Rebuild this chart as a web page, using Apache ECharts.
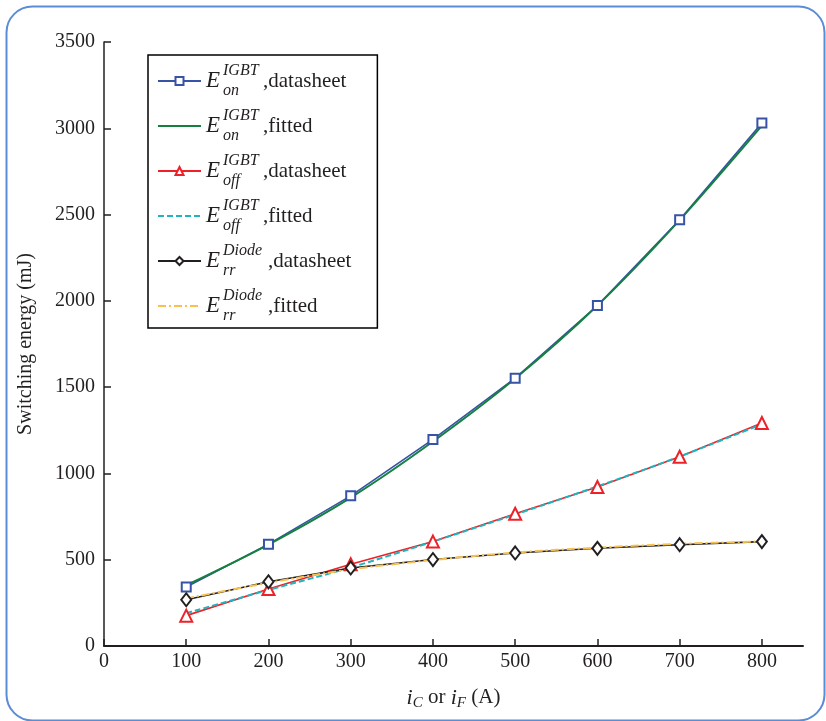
<!DOCTYPE html>
<html><head><meta charset="utf-8">
<script src="https://cdn.jsdelivr.net/npm/echarts@6/dist/echarts.min.js"></script>
<style>html,body{margin:0;padding:0;background:#fff}#c{width:826px;height:721px}</style>
</head><body><div id="c"></div>
<script>
// ---- data ----
const current = [100, 200, 300, 400, 500, 600, 700, 800];
const eonDatasheet = [342, 590, 870, 1197, 1552, 1973, 2470, 3030];
const eonFitted = [352, 588, 860, 1185, 1550, 1973, 2468, 3015];
const eoffDatasheet = [176, 330, 474, 605, 766, 921, 1097, 1292];
const eoffFitted = [190, 325, 455, 605, 762, 925, 1098, 1285];
const errDatasheet = [268, 372, 452, 501, 539, 566, 587, 605];
const errFitted = [276, 366, 444, 498, 542, 570, 592, 606];
const xTickValues = [0, 100, 200, 300, 400, 500, 600, 700, 800];
const seriesNames = ['Eon_IGBT_datasheet', 'Eon_IGBT_fitted', 'Eoff_IGBT_datasheet', 'Eoff_IGBT_fitted', 'Err_Diode_datasheet', 'Err_Diode_fitted'];
const legendSup = ['IGBT', 'IGBT', 'IGBT', 'IGBT', 'Diode', 'Diode'];
const legendSub = ['on', 'on', 'off', 'off', 'rr', 'rr'];
const legendTail = [',datasheet', ',fitted', ',datasheet', ',fitted', ',datasheet', ',fitted'];
const legendHasMarker = [true, false, true, false, true, false];

const FONT = "'Liberation Serif', 'Times New Roman', serif";
const pair = v => v.map((y, i) => [current[i], y]);

const chart = echarts.init(document.getElementById('c'), null, {renderer: 'canvas'});

const option = {
  backgroundColor: '#fff',
  animation: false,
  textStyle: {fontFamily: FONT},
  graphic: [{
    type: 'rect', left: 4, top: 4, z: -10, silent: true,
    shape: {width: 818, height: 714, r: 26},
    style: {fill: 'none', stroke: '#5b8dd6', lineWidth: 2}
  }],
  grid: {left: 104, right: 23, top: 42, bottom: 75, containLabel: false},
  legend: {
    orient: 'vertical',
    left: 148, top: 55,
    padding: [8, 26, 4, 9],
    itemGap: 9,
    itemWidth: 43,
    itemHeight: 10,
    borderColor: '#000', borderWidth: 1.5,
    backgroundColor: '#fff',
    data: seriesNames.map((n, i) => legendHasMarker[i] ? {name: n} : {name: n, itemStyle: {opacity: 0}}),
    formatter: function (name) {
      const i = seriesNames.indexOf(name);
      const g = legendSup[i] === 'IGBT' ? 'g1' : 'g2';
      return '{sp|}{sup|' + legendSup[i] + '}\n{e|E}{' + g + '|}{t|' + legendTail[i] + '}\n{sp|}{sub|' + legendSub[i] + '}';
    },
    textStyle: {
      fontFamily: FONT, color: '#231f20',
      rich: {
        sp: {width: 17, lineHeight: 10, fontSize: 14},
        sup: {fontSize: 16, fontStyle: 'italic', lineHeight: 10, fontFamily: FONT, color: '#231f20'},
        e: {width: 17, fontSize: 23, fontStyle: 'italic', lineHeight: 10, fontFamily: FONT, color: '#231f20'},
        g1: {width: 40, lineHeight: 10},
        g2: {width: 45, lineHeight: 10},
        t: {fontSize: 21, lineHeight: 10, fontFamily: FONT, color: '#231f20'},
        sub: {fontSize: 16, fontStyle: 'italic', lineHeight: 10, fontFamily: FONT, color: '#231f20'}
      }
    }
  },
  xAxis: {
    type: 'value', min: 0, max: 850, interval: 100,
    axisLine: {show: true, onZero: false, lineStyle: {color: '#231f20', width: 2}},
    axisTick: {show: true, inside: true, length: 7, customValues: xTickValues, lineStyle: {color: '#231f20', width: 1.5}},
    axisLabel: {customValues: xTickValues, margin: 6, fontSize: 20, fontFamily: FONT, color: '#231f20', formatter: v => String(v)},
    splitLine: {show: false},
    name: '{i|i}{s|C}{n| or }{i|i}{s|F}{n| (A)}',
    nameLocation: 'middle', nameGap: 41,
    nameTextStyle: {
      fontFamily: FONT, color: '#231f20',
      rich: {
        i: {fontSize: 22, fontStyle: 'italic', fontFamily: FONT, color: '#231f20', lineHeight: 24, verticalAlign: 'top'},
        s: {fontSize: 15, fontStyle: 'italic', fontFamily: FONT, color: '#231f20', lineHeight: 16, verticalAlign: 'bottom'},
        n: {fontSize: 21, fontFamily: FONT, color: '#231f20', lineHeight: 24, verticalAlign: 'top'}
      }
    }
  },
  yAxis: {
    type: 'value', min: 0, max: 3500, interval: 500,
    axisLine: {show: true, lineStyle: {color: '#231f20', width: 1.5}},
    axisTick: {show: true, inside: true, length: 7, lineStyle: {color: '#231f20', width: 1.5}},
    axisLabel: {margin: 9, fontSize: 20, fontFamily: FONT, color: '#231f20', formatter: v => String(v)},
    splitLine: {show: false},
    name: 'Switching energy (mJ)',
    nameLocation: 'middle', nameRotate: 90, nameGap: 68,
    nameTextStyle: {fontSize: 20, fontFamily: FONT, color: '#231f20'}
  },
  series: [
    {
      name: seriesNames[0], type: 'line', data: pair(eonDatasheet),
      symbol: 'emptyRect', symbolSize: 9,
      lineStyle: {color: '#3653a5', width: 1.6}, itemStyle: {color: '#3653a5', borderWidth: 1.6}
    },
    {
      name: seriesNames[1], type: 'line', data: pair(eonFitted), smooth: 0.3,
      symbol: 'none', lineStyle: {color: '#15803f', width: 2}, itemStyle: {color: '#15803f'}
    },
    {
      name: seriesNames[2], type: 'line', data: pair(eoffDatasheet),
      symbol: 'emptyTriangle', symbolSize: 12,
      lineStyle: {color: '#ee2028', width: 1.6}, itemStyle: {color: '#ee2028', borderWidth: 1.6}
    },
    {
      name: seriesNames[3], type: 'line', data: pair(eoffFitted), smooth: 0.3,
      symbol: 'none', lineStyle: {color: '#1fb5bf', width: 2, type: [6, 3]}, itemStyle: {color: '#1fb5bf'}
    },
    {
      name: seriesNames[4], type: 'line', data: pair(errDatasheet),
      symbol: 'emptyDiamond', symbolSize: [10, 13],
      lineStyle: {color: '#231f20', width: 1.6}, itemStyle: {color: '#231f20', borderWidth: 1.6}
    },
    {
      name: seriesNames[5], type: 'line', data: pair(errFitted), smooth: 0.3,
      symbol: 'none', lineStyle: {color: '#f8c050', width: 2, type: [8, 3, 2, 3]}, itemStyle: {color: '#f8c050'}
    }
  ]
};
chart.setOption(option);
</script>
</body></html>
